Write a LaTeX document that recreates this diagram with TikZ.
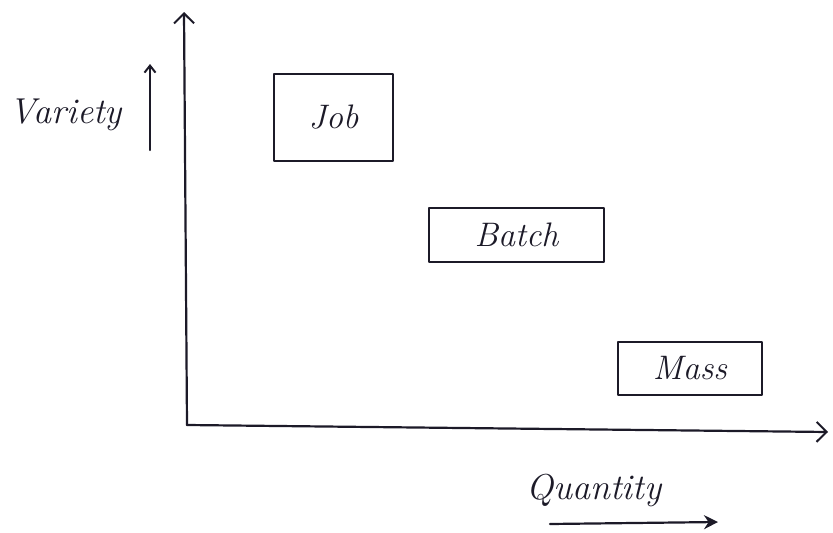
\documentclass[tikz,border=0pt]{standalone}
\usetikzlibrary{arrows.meta}
\definecolor{ink}{RGB}{28,26,40}
\tikzset{
  ink line/.style={draw=ink, line width=2.2pt, line cap=round, line join=round},
  axis/.style={ink line, -{Straight Barb[length=10pt,width=20pt,line width=2pt]}},
  smallarrow/.style={ink line, -{Straight Barb[length=7pt,width=11pt,line width=2pt]}},
  qarrow/.style={ink line, -{Stealth[length=14pt,width=14pt]}},
  catbox/.style={ink line, rectangle, inner sep=0pt, font=\fontsize{34}{38}\selectfont\itshape, text=ink},
  lbl/.style={font=\fontsize{36}{40}\selectfont\itshape, text=ink, inner sep=0pt}
}
\begin{document}
\begin{tikzpicture}[x=1pt,y=-1pt]
\useasboundingbox (0,0) rectangle (833,533);
\fill[white] (0,0) rectangle (833,533);
% axes
\coordinate (O) at (187,425);
\coordinate (Ytop) at (184,12);
\coordinate (Xend) at (828,432);
\draw[axis] (O) -- (Ytop);
\draw[axis] (O) -- (Xend);
% boxes
\node[catbox, minimum width=119pt, minimum height=87pt] (job) at (333.5,117.5) {Job};
\node[catbox, minimum width=175pt, minimum height=54pt] (batch) at (516.5,235) {Batch};
\node[catbox, minimum width=144pt, minimum height=53pt] (mass) at (690,368.5) {Mass};
% variety label
\node[lbl] (variety) at (66,115) {Variety};
\coordinate (va) at (150,150);
\coordinate (vb) at (150,64);
\draw[smallarrow] (va) -- (vb);
% quantity label
\node[lbl] (quantity) at (594,490) {Quantity};
\coordinate (qa) at (550,524);
\coordinate (qb) at (718,522);
\draw[qarrow] (qa) -- (qb);
\end{tikzpicture}
\end{document}
